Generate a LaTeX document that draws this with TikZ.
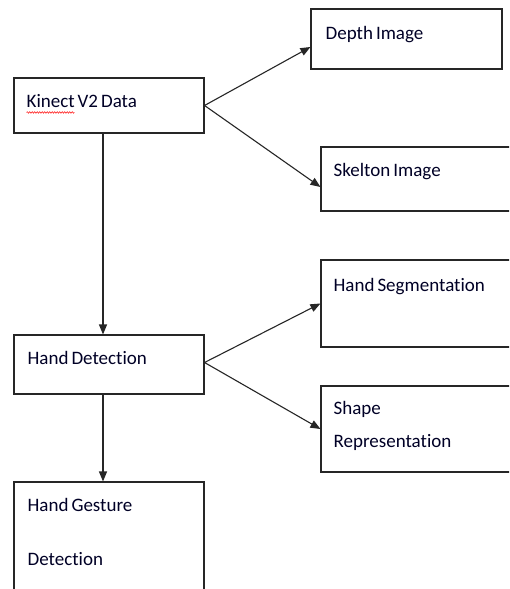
\documentclass[tikz,border=0pt]{standalone}
\usepackage{fontspec}
\setmainfont[Ligatures=CommonOff]{Carlito}
\usetikzlibrary{arrows.meta,decorations.pathmorphing}

\newcommand\boxfont{\fontsize{19}{22}\selectfont\spaceskip=3pt\relax}

\tikzset{
  box/.style={draw=black!85, line width=1.1pt, rectangle, inner sep=0pt},
  lbl/.style={anchor=base west, inner sep=0pt, text=black!85!blue, font=\boxfont},
  flow/.style={draw=black!85, line width=1.1pt, -{Triangle[length=10pt,width=8pt]}}
}

\begin{document}
\begin{tikzpicture}[x=1pt, y=-1pt]
    \clip (0,0) rectangle (509,589);
    \fill[white] (0,0) rectangle (509,589);

    % left column
    \node[box, minimum width=190pt, minimum height=55pt] (kinect) at (109,105.5) {};
    \node[box, minimum width=190pt, minimum height=59pt] (hd) at (109,364.5) {};
    \node[box, minimum width=190pt, minimum height=128pt] (gesture) at (109,546) {};

    % right column
    \node[box, minimum width=191pt, minimum height=60pt] (depth) at (406.5,39) {};
    \node[box, minimum width=192pt, minimum height=64pt] (skel) at (417,179) {};
    \node[box, minimum width=192pt, minimum height=87pt] (seg) at (417,303.5) {};
    \node[box, minimum width=192pt, minimum height=86pt] (shape) at (417,429) {};

    % texts
    \node[lbl] (kinect-t) at ([shift={(13,30)}]kinect.north west) {Kinect V2 Data};
    \draw[red, line width=0.5pt, decorate, decoration={snake, amplitude=0.8pt, segment length=2.5pt}]
        ([shift={(0,5)}]kinect-t.base west) -- ++(48,0);
    \node[lbl] at ([shift={(14,30)}]hd.north west) {Hand Detection};
    \node[lbl] at ([shift={(14,30)}]gesture.north west) {Hand Gesture};
    \node[lbl] at ([shift={(14,84)}]gesture.north west) {Detection};
    \node[lbl] at ([shift={(15,31)}]depth.north west) {Depth Image};
    \node[lbl] at ([shift={(13,30)}]skel.north west) {Skelton Image};
    \node[lbl] at ([shift={(13,32)}]seg.north west) {Hand Segmentation};
    \node[lbl] at ([shift={(13,29)}]shape.north west) {Shape};
    \node[lbl] at ([shift={(13,62)}]shape.north west) {Representation};

    % connectors
    \draw[flow] (kinect.east) -- ([yshift=-8pt]depth.west);
    \draw[flow] (kinect.east) -- ([yshift=-8pt]skel.west);
    \draw[flow] ([xshift=-6pt]kinect.south) -- ([xshift=-6pt]hd.north);
    \draw[flow] ([yshift=2pt]hd.east) -- (seg.west);
    \draw[flow] ([yshift=2pt]hd.east) -- (shape.west);
    \draw[flow] ([xshift=-6pt]hd.south) -- ([xshift=-6pt]gesture.north);

\end{tikzpicture}
\end{document}
